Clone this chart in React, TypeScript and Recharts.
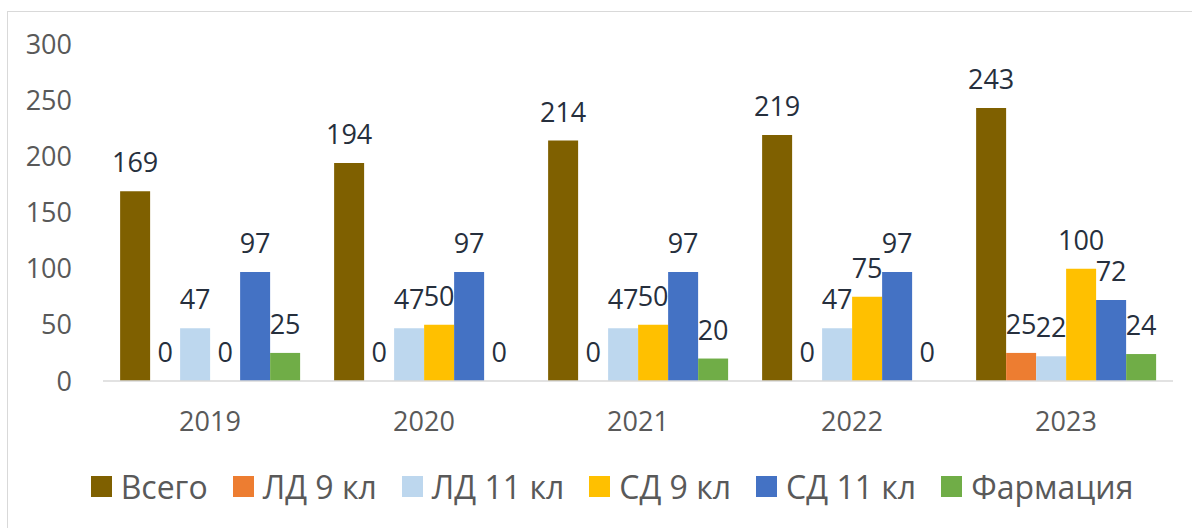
import React from 'react'
import { BarChart, Bar, XAxis, YAxis, LabelList, Legend } from 'recharts'

const years = ['2019', '2020', '2021', '2022', '2023']
const total = [169, 194, 214, 219, 243]
const ld9 = [0, 0, 0, 0, 25]
const ld11 = [47, 47, 47, 47, 22]
const sd9 = [0, 50, 50, 75, 100]
const sd11 = [97, 97, 97, 97, 72]
const pharm = [25, 0, 20, 0, 24]
const yTicks = [0, 50, 100, 150, 200, 250, 300]

const series = [
  { key: 'total', name: 'Всего', color: '#7f6000' },
  { key: 'ld9', name: 'ЛД 9 кл', color: '#ed7d31' },
  { key: 'ld11', name: 'ЛД 11 кл', color: '#bdd7ee' },
  { key: 'sd9', name: 'СД 9 кл', color: '#ffc000' },
  { key: 'sd11', name: 'СД 11 кл', color: '#4472c4' },
  { key: 'pharm', name: 'Фармация', color: '#70ad47' },
]

const data = years.map((y, i) => ({
  year: y,
  total: total[i],
  ld9: ld9[i],
  ld11: ld11[i],
  sd9: sd9[i],
  sd11: sd11[i],
  pharm: pharm[i],
}))

const font = '"Open Sans", sans-serif'

// легенда своя, чтобы квадратики были как в Excel
const renderLegend = () => (
  <div style={{ display: 'flex', justifyContent: 'center', alignItems: 'center', gap: 25, fontFamily: font, fontSize: 32, color: '#595959', paddingLeft: 32 }}>
    {series.map((s) => (
      <div key={s.key} style={{ display: 'flex', alignItems: 'center', gap: 9 }}>
        <span style={{ width: 21, height: 21, background: s.color, display: 'inline-block' }} />
        <span>{s.name}</span>
      </div>
    ))}
  </div>
)

export default function App() {
  return (
    <div style={{ position: 'absolute', left: 0, top: 0, width: 1192, height: 528, background: '#fff' }}>
      <div style={{ position: 'absolute', left: 7, top: 11, right: -2, bottom: -2, borderLeft: '1px solid #d9d9d9', borderTop: '1px solid #d9d9d9' }} />
      <BarChart
        width={1192}
        height={528}
        data={data}
        margin={{ top: 44, right: 19, left: 0, bottom: 87 }}
        barCategoryGap="8%"
        barGap={0}
      >
        <XAxis
          dataKey="year"
          height={60}
          axisLine={{ stroke: '#d9d9d9', strokeWidth: 1.5 }}
          tickLine={false}
          tickMargin={25}
          tick={{ fill: '#595959', fontSize: 27, fontFamily: font }}
        />
        <YAxis
          width={103}
          domain={[0, 300]}
          ticks={yTicks}
          axisLine={false}
          tickLine={false}
          tickMargin={25}
          tick={{ fill: '#595959', fontSize: 27, fontFamily: font }}
        />
        <Legend verticalAlign="middle" content={renderLegend} wrapperStyle={{ top: 465, left: 0, width: 1192 }} />
        {series.map((s) => (
          <Bar key={s.key} dataKey={s.key} name={s.name} fill={s.color} minPointSize={0.01} isAnimationActive={false}>
            <LabelList dataKey={s.key} position="top" offset={19} fill="#262f3d" fontSize={27} fontFamily={font} />
          </Bar>
        ))}
      </BarChart>
    </div>
  )
}
